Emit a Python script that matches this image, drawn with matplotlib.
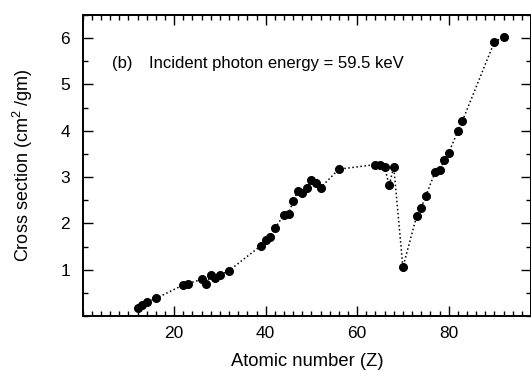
import matplotlib
matplotlib.use("Agg")
import matplotlib.pyplot as plt
from matplotlib.ticker import MultipleLocator

# atomic number and cross section values
z = [12, 13, 14, 16, 22, 23, 26, 27, 28, 29, 30, 32,
     39, 40, 41, 42, 44, 45, 46, 47, 48, 49, 50, 51, 52,
     56, 64, 65, 66, 67, 68, 70, 73, 74, 75, 77, 78, 79, 80,
     82, 83, 90, 92]
sigma = [0.17, 0.24, 0.30, 0.38, 0.67, 0.70, 0.79, 0.70, 0.88, 0.83, 0.88, 0.98,
         1.52, 1.64, 1.70, 1.89, 2.19, 2.20, 2.48, 2.69, 2.66, 2.77, 2.93, 2.88, 2.77,
         3.17, 3.27, 3.27, 3.22, 2.82, 3.22, 1.05, 2.16, 2.34, 2.59, 3.10, 3.15, 3.36, 3.52,
         3.99, 4.21, 5.92, 6.02]

plt.rcParams['font.family'] = ['Liberation Sans', 'DejaVu Sans']
plt.rcParams['mathtext.fontset'] = 'custom'
plt.rcParams['mathtext.rm'] = 'Liberation Sans'
plt.rcParams['mathtext.it'] = 'Liberation Sans'

fig = plt.figure(figsize=(5.31, 3.70), dpi=100)
ax = fig.add_axes([0.1557, 0.146, 0.8443, 0.8135])

ax.plot(z, sigma, color='black', linestyle=':', linewidth=1.1,
        marker='o', markersize=5.5, markerfacecolor='black', markeredgecolor='black')

ax.set_xlim(0, 98)
ax.set_ylim(0, 6.5)
ax.xaxis.set_minor_locator(MultipleLocator(2))
ax.yaxis.set_minor_locator(MultipleLocator(0.5))
ax.set_xticks([20, 40, 60, 80])
ax.set_yticks([1, 2, 3, 4, 5, 6])

ax.tick_params(which='both', direction='in', top=True, right=True, width=1, labelsize=12.5)
ax.tick_params(which='major', length=7)
ax.tick_params(axis='x', which='major', pad=7)
ax.tick_params(axis='y', which='major', pad=9)
ax.tick_params(which='minor', length=3.5)
for s in ax.spines.values():
    s.set_linewidth(1.4)

ax.set_xlabel('Atomic number (Z)', fontsize=13.2, labelpad=8.5)
ax.set_ylabel('Cross section (cm$^2$ /gm)', fontsize=13, labelpad=18)

ax.text(6.5, 5.45, '(b)', fontsize=12, va='center')
ax.text(14.5, 5.45, 'Incident photon energy = 59.5 keV', fontsize=12, va='center')

plt.savefig('out.png', dpi=100)
